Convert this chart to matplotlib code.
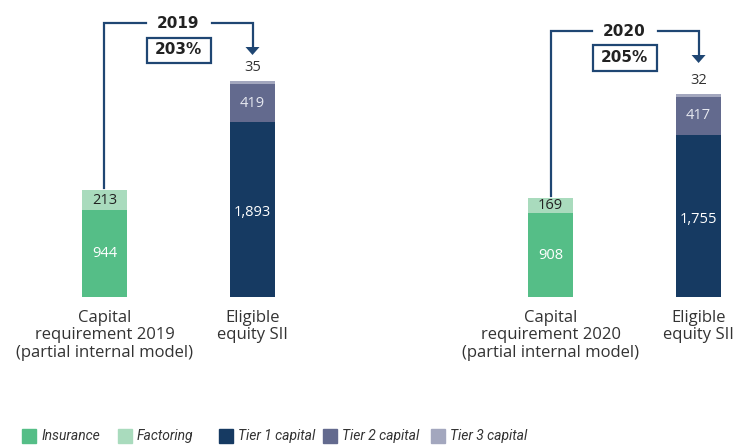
import matplotlib
matplotlib.use("Agg")
import matplotlib.pyplot as plt
from matplotlib.patches import Rectangle
import numpy as np

plt.rcParams['font.family'] = ['Open Sans', 'DejaVu Sans']

# ---- data ----
groups = ["2019", "2020"]
ratios = ["203%", "205%"]
req_labels = ["Capital\nrequirement 2019\n(partial internal model)",
              "Capital\nrequirement 2020\n(partial internal model)"]
eq_label = "Eligible\nequity SII"
insurance = [944, 908]
factoring = [213, 169]
tier1 = [1893, 1755]
tier2 = [419, 417]
tier3 = [35, 32]
legend_labels = ["Insurance", "Factoring", "Tier 1 capital", "Tier 2 capital", "Tier 3 capital"]

# ---- style ----
c_ins = "#55BE87"
c_fac = "#A9DBBD"
c_t1 = "#163A62"
c_t2 = "#636A8E"
c_t3 = "#A3A7BE"
c_line = "#1F4673"
c_txt = "#333333"
bold_family = ["DejaVu Sans"]

W, H = 753, 445
fig = plt.figure(figsize=(W / 100, H / 100), dpi=100)
base_px = 297
ax = fig.add_axes([0, (H - base_px) / H, 1, base_px / H])
scale = 0.0922  # px per unit
ax.set_ylim(0, base_px / scale)
unit = 148.0
ax.set_xlim(-104.5 / unit, (W - 104.5) / unit)
ax.axis("off")

req_x = np.array([0.0, 3.014])
eq_x = req_x + 1
bw = 45 / unit

ax.bar(req_x, insurance, bw, color=c_ins)
ax.bar(req_x, factoring, bw, bottom=insurance, color=c_fac)
ax.bar(eq_x, tier1, bw, color=c_t1)
b2 = np.array(tier1)
ax.bar(eq_x, tier2, bw, bottom=b2, color=c_t2)
b3 = b2 + np.array(tier2)
ax.bar(eq_x, tier3, bw, bottom=b3, color=c_t3)

fs = 10.5
for i in range(2):
    ax.text(req_x[i], insurance[i] / 2, f"{insurance[i]:,}", ha="center", va="center",
            color="white", fontsize=fs)
    ax.text(req_x[i], insurance[i] + factoring[i] / 2, f"{factoring[i]:,}", ha="center",
            va="center", color="#222222", fontsize=fs)
    ax.text(eq_x[i], tier1[i] / 2 - 3 / scale, f"{tier1[i]:,}", ha="center", va="center",
            color="white", fontsize=fs)
    ax.text(eq_x[i], tier1[i] + tier2[i] / 2, f"{tier2[i]:,}", ha="center", va="center",
            color="#E6E8F0", fontsize=fs)
    tot = tier1[i] + tier2[i] + tier3[i]
    ax.text(eq_x[i], tot + 13 / scale, f"{tier3[i]:,}", ha="center",
            va="center", color=c_txt, fontsize=fs)
    # x labels
    ax.text(req_x[i], -13 / scale, req_labels[i], ha="center", va="top", color=c_txt,
            fontsize=12, linespacing=1.12)
    ax.text(eq_x[i], -13 / scale, eq_label, ha="center", va="top", color=c_txt,
            fontsize=12, linespacing=1.12)

# brackets
top_px = [23, 31]
for i in range(2):
    ytop = (base_px - top_px[i]) / scale
    req_top = insurance[i] + factoring[i] + 2 / scale
    mid = (req_x[i] + eq_x[i]) / 2
    gap = 33 / unit
    ax.plot([req_x[i], req_x[i], mid - gap], [req_top, ytop, ytop], color=c_line, lw=1.6,
            solid_joinstyle="miter")
    arrow_tip = ytop - 32 / scale
    ax.plot([mid + gap, eq_x[i], eq_x[i]], [ytop, ytop, arrow_tip + 6 / scale], color=c_line,
            lw=1.6, solid_joinstyle="miter")
    ax.fill([eq_x[i] - 7 / unit, eq_x[i] + 7 / unit, eq_x[i]],
            [arrow_tip + 8 / scale, arrow_tip + 8 / scale, arrow_tip], color=c_line, lw=0)
    ax.text(mid, ytop, groups[i], ha="center", va="center", fontsize=11,
            fontweight="bold", color="#222222", family=bold_family)
    ycen = ytop - 27 / scale
    ax.add_patch(Rectangle((mid - 32 / unit, ycen - 12.5 / scale), 64 / unit, 25 / scale,
                           fc="white", ec=c_line, lw=1.6, zorder=3))
    ax.text(mid, ycen, ratios[i], ha="center", va="center", fontsize=11,
            fontweight="bold", color="#222222", zorder=4, family=bold_family)

# legend (manual, partly clipped at bottom like the reference)
leg_colors = [c_ins, c_fac, c_t1, c_t2, c_t3]
leg_x = [22, 118, 219, 323, 431]
for xx, c, lab in zip(leg_x, leg_colors, legend_labels):
    fig.patches.append(Rectangle((xx / W, (H - 443) / H), 14 / W, 14 / H, color=c,
                                 transform=fig.transFigure, figure=fig))
    fig.text((xx + 19) / W, (H - 436) / H, lab, ha="left", va="center", style="italic",
             fontsize=10, color=c_txt, family=["Roboto", "DejaVu Sans"])

fig.savefig("out.png", dpi=100)
